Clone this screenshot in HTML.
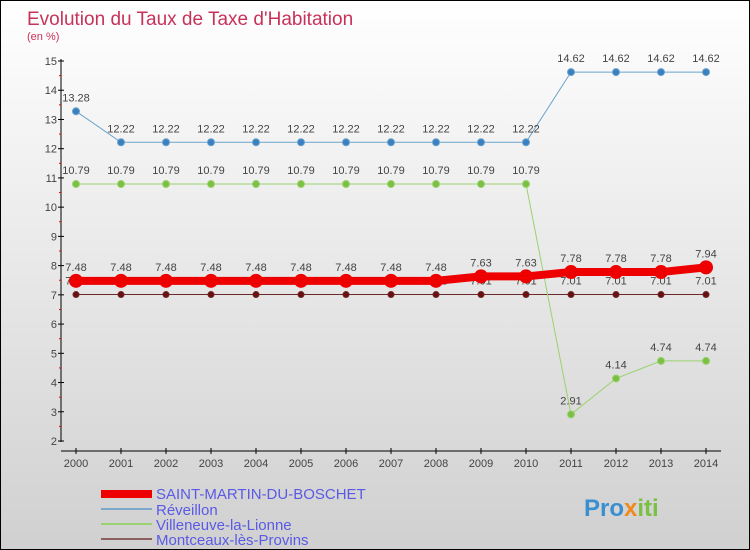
<!DOCTYPE html>
<html><head><meta charset="utf-8"><style>
body{margin:0;}
#c{width:748px;height:548px;border:1px solid #000;background:linear-gradient(#fff,#d0d0d0);position:relative;overflow:hidden;font-family:"Liberation Sans",sans-serif;}
</style></head><body>
<div id="c">
<svg id="s" width="748" height="548" style="position:absolute;left:0;top:0">
<text x="26" y="24" font-size="19" fill="#c8325a">Evolution du Taux de Taxe d'Habitation</text>
<text x="26" y="39" font-size="11" fill="#c8325a">(en %)</text>
<g id="g"></g>
<g>
<rect x="100" y="489" width="51" height="8" fill="#e00"/>
<text x="155" y="498" font-size="15" fill="#5a5ae6">SAINT-MARTIN-DU-BOSCHET</text>
<line x1="100" y1="508" x2="151" y2="508" stroke="#7aa9c9" stroke-width="2"/>
<text x="155" y="514" font-size="15" fill="#5a5ae6">Réveillon</text>
<line x1="100" y1="523" x2="151" y2="523" stroke="#99d26e" stroke-width="2"/>
<text x="155" y="529" font-size="15" fill="#5a5ae6">Villeneuve-la-Lionne</text>
<line x1="100" y1="538" x2="151" y2="538" stroke="#8b6060" stroke-width="2"/>
<text x="155" y="544" font-size="15" fill="#5a5ae6">Montceaux-lès-Provins</text>
</g>
<text x="583" y="515" font-size="24" font-weight="bold" fill="#3a8fd0">Pro<tspan fill="#f08a1e">x</tspan><tspan fill="#7bc043">iti</tspan></text>
</svg>
</div>
<script>
const years=[2000,2001,2002,2003,2004,2005,2006,2007,2008,2009,2010,2011,2012,2013,2014];
const yTicks=[2,3,4,5,6,7,8,9,10,11,12,13,14,15];
const saint=[7.48,7.48,7.48,7.48,7.48,7.48,7.48,7.48,7.48,7.63,7.63,7.78,7.78,7.78,7.94];
const reveillon=[13.28,12.22,12.22,12.22,12.22,12.22,12.22,12.22,12.22,12.22,12.22,14.62,14.62,14.62,14.62];
const villeneuve=[10.79,10.79,10.79,10.79,10.79,10.79,10.79,10.79,10.79,10.79,10.79,2.91,4.14,4.74,4.74];
const montceaux=[7.01,7.01,7.01,7.01,7.01,7.01,7.01,7.01,7.01,7.01,7.01,7.01,7.01,7.01,7.01];
const NS='http://www.w3.org/2000/svg';
const g=document.getElementById('g');
const X=i=>75+i*45;
const Y=v=>440-(v-2)*(380/13);
function el(t,a,p){const e=document.createElementNS(NS,t);for(const k in a)e.setAttribute(k,a[k]);(p||g).appendChild(e);return e;}
const ax=el('line',{x1:60,y1:58,x2:60,y2:441,stroke:'#000'});


const xa=el('line',{x1:60,y1:450,x2:720,y2:450,stroke:'#000'});


yTicks.forEach(v=>{
 el('line',{x1:57,y1:Y(v),x2:63,y2:Y(v),stroke:'#000'});
 if(v<15)el('line',{x1:58,y1:Y(v+0.5),x2:60,y2:Y(v+0.5),stroke:'#e00'});
 const t=el('text',{x:56,y:Y(v)+4,'font-size':11,fill:'#444','text-anchor':'end'});t.textContent=v;
 
 
});
years.forEach((y,i)=>{
 el('line',{x1:X(i),y1:447,x2:X(i),y2:453,stroke:'#000'});
 const t=el('text',{x:X(i),y:466,'font-size':11,fill:'#444','text-anchor':'middle'});t.textContent=y;
 
 
});
function series(d,color,w,dot,dotFill,name,labels){
 const p=el('polyline',{points:d.map((v,i)=>X(i)+','+Y(v)).join(' '),fill:'none',stroke:color,'stroke-width':w});
 
 
 d.forEach((v,i)=>{
  const c=el('circle',{cx:X(i),cy:Y(v),r:dot,fill:dotFill,stroke:color,'stroke-width':1});
  
  
  if(labels){const t=el('text',{x:X(i),y:Y(v)-10,'font-size':11,fill:'#444','text-anchor':'middle'});t.textContent=v.toFixed(2);
  
  }
 });
}
series(montceaux,'#6b2a2a',1,3,'#6b1010','montceaux',true);
series(villeneuve,'#99d26e',1,3.5,'#7bc043','villeneuve',true);
series(reveillon,'#6aa3cc',1,3.5,'#3a80c0','reveillon',true);
series(saint,'#e00',8,6.5,'#e00','saint-martin',true);
</script>
</body></html>
